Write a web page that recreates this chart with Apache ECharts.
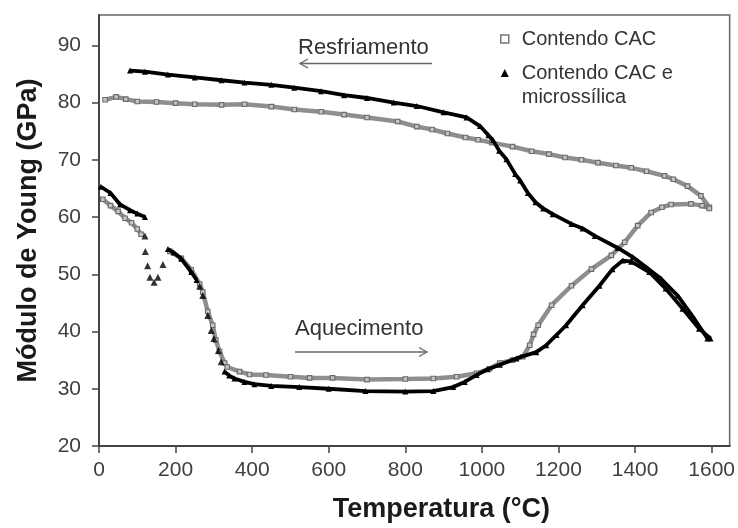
<!DOCTYPE html>
<html>
<head>
<meta charset="utf-8">
<script src="https://cdn.jsdelivr.net/npm/echarts@6/dist/echarts.min.js"></script>
<style>html,body{margin:0;padding:0;background:#fff}#c{width:738px;height:528px}</style>
</head>
<body>
<div id="c"></div>
<script>
// ---------- data ----------
const S1 = 'Contendo CAC';
const S2 = 'Contendo CAC e microssílica';
const xTicks = [0, 200, 400, 600, 800, 1000, 1200, 1400, 1600];
const yTicks = [20, 30, 40, 50, 60, 70, 80, 90];

// Contendo CAC (open squares) - heating
const cacHeatA = [[10,63.1],[30,62.0],[50,61.0],[68,59.8],[85,59.0],[100,57.9],[110,57.0]];
const cacHeatB = [[185,54.0],[215,52.8],[241,50.8],[263,48.3],[271,46.9],[284,43.5],[297,41.1],[305,38.5],[315,36.5],[328,34.5],[335,33.8],[367,33.0],[393,32.5],[436,32.4],[500,32.1],[550,31.9],[610,31.9],[700,31.6],[800,31.7],[873,31.8],[934,32.1],[986,32.7],[1020,33.5],[1047,34.5],[1080,35.0],[1107,35.6],[1125,37.6],[1135,39.5],[1147,41.1],[1182,44.6],[1234,48.0],[1286,50.9],[1338,53.3],[1373,55.6],[1407,58.5],[1442,60.8],[1470,61.7],[1494,62.2],[1546,62.3],[1575,62.0],[1594,61.5]];
// Contendo CAC - cooling
const cacCool = [[1594,61.7],[1572,63.7],[1537,65.4],[1500,66.6],[1477,67.2],[1430,68.0],[1390,68.6],[1350,69.0],[1303,69.5],[1260,70.0],[1217,70.4],[1175,71.0],[1130,71.5],[1080,72.3],[1026,73.0],[990,73.5],[957,73.9],[910,74.6],[870,75.3],[830,75.8],[780,76.7],[700,77.4],[640,77.9],[580,78.4],[510,78.8],[450,79.3],[380,79.7],[320,79.6],[250,79.7],[200,79.9],[150,80.1],[100,80.2],[70,80.6],[45,81.0],[16,80.5]];

// Contendo CAC e microssílica (filled triangles) - heating
const micHeatA = [[5,65.3],[30,64.2],[55,62.2],[81,61.2],[100,60.6],[120,60.0]];
const micDip = [[120,56.7],[121,54.0],[127,51.5],[133,49.5],[144,48.6],[154,49.5],[167,51.7],[263,47.9],[271,46.3],[284,42.8],[293,40.2],[300,38.8],[312,36.7],[319,34.7]];
const micHeatB = [[180,54.4],[195,53.8],[215,52.7],[241,50.4],[255,49.0]];
const micHeatC = [[328,33.0],[340,32.3],[354,31.8],[380,31.2],[406,30.8],[450,30.5],[523,30.3],[600,30.0],[696,29.6],[800,29.5],[873,29.6],[925,30.3],[955,31.2],[986,32.4],[1015,33.4],[1047,34.2],[1090,35.3],[1142,36.4],[1168,37.6],[1195,39.4],[1220,41.1],[1263,44.6],[1307,48.0],[1341,50.9],[1368,52.4],[1390,52.2],[1437,50.4],[1480,47.5],[1524,44.0],[1567,40.5],[1597,38.8]];
// Contendo CAC e microssílica - cooling
const micCool = [[1589,38.8],[1555,42.2],[1511,46.3],[1468,49.2],[1430,51.2],[1394,53.0],[1355,54.6],[1295,56.7],[1263,58.0],[1234,58.8],[1185,60.5],[1160,61.5],[1140,62.6],[1120,64.2],[1100,66.4],[1087,67.5],[1064,70.1],[1045,71.6],[1029,73.4],[1017,74.3],[995,75.9],[960,77.4],[900,78.3],[830,79.4],[770,80.0],[700,80.8],[640,81.3],[580,82.0],[510,82.6],[450,83.1],[380,83.5],[320,83.9],[250,84.4],[180,84.9],[120,85.4],[81,85.6]];

// ---------- chart ----------
const FONT = '"Liberation Sans", Arial, sans-serif';
const chart = echarts.init(document.getElementById('c'), null, {renderer: 'canvas'});

const grayLine = {color: '#8e8e8e', width: 4.5};
const graySym = {color: '#c4c4c4', borderColor: '#6a6a6a', borderWidth: 1.1};
const blackLine = {color: '#000', width: 3.8};
const blackSym = {color: '#000'};

function graySeries(data) {
  return {name: S1, type: 'line', data: data, symbol: 'rect', symbolSize: 4.5,
    lineStyle: grayLine, itemStyle: graySym, z: 2, animation: false};
}
function blackSeries(data) {
  return {name: S2, type: 'line', data: data, symbol: 'triangle', symbolSize: 6,
    lineStyle: blackLine, itemStyle: blackSym, z: 3, animation: false};
}

chart.setOption({
  animation: false,
  backgroundColor: '#fff',
  grid: {left: 99, right: 6, top: 15, bottom: 80, show: true, borderColor: '#666', borderWidth: 1.5},
  xAxis: {
    type: 'value', min: 0, max: 1647,
    name: 'Temperatura (°C)', nameLocation: 'middle', nameGap: 50,
    nameTextStyle: {fontFamily: FONT, fontSize: 27, fontWeight: 'bold', color: '#1a1a1a', padding: [0, 0, 0, 54]},
    axisLine: {lineStyle: {color: '#444', width: 2}},
    axisTick: {show: true, inside: false, length: 7, customValues: xTicks, lineStyle: {color: '#444', width: 1.5}},
    axisLabel: {customValues: xTicks, formatter: function (v) { return String(v); }, fontFamily: FONT, fontSize: 21, color: '#404040', margin: 14},
    splitLine: {show: false}
  },
  yAxis: {
    type: 'value', min: 20, max: 95.3,
    name: 'Módulo de Young (GPa)', nameLocation: 'middle', nameGap: 57,
    nameTextStyle: {fontFamily: FONT, fontSize: 27, fontWeight: 'bold', color: '#1a1a1a'},
    axisLine: {show: true, lineStyle: {color: '#444', width: 2}},
    axisTick: {show: true, inside: false, length: 7, customValues: yTicks, lineStyle: {color: '#444', width: 1.5}},
    axisLabel: {customValues: yTicks, formatter: function (v) { return String(v); }, fontFamily: FONT, fontSize: 21, color: '#404040', margin: 18},
    splitLine: {show: false}
  },
  legend: {
    orient: 'vertical', left: 500, top: 27, padding: 0, itemGap: -14,
    itemWidth: 8, itemHeight: 8,
    selectedMode: false,
    textStyle: {fontFamily: FONT, fontSize: 20, color: '#333', lineHeight: 24, padding: [0, 0, 0, 8]},
    formatter: function (n) { return n === S2 ? '\nContendo CAC e\nmicrossílica' : n; },
    data: [
      {name: S1, icon: 'rect', itemStyle: {color: '#fff', borderColor: '#777', borderWidth: 1.5}},
      {name: S2, icon: 'triangle', itemStyle: {color: '#000', borderWidth: 0}}
    ]
  },
  graphic: [
    {type: 'text', left: 298, top: 37, style: {text: 'Resfriamento', font: '22px ' + FONT, fill: '#333'}},
    {type: 'line', shape: {x1: 300, y1: 63.5, x2: 432, y2: 63.5}, style: {stroke: '#666', lineWidth: 1.3}},
    {type: 'polyline', shape: {points: [[308, 59], [300, 63.5], [308, 68]]}, style: {stroke: '#666', lineWidth: 1.3, fill: null}},
    {type: 'text', left: 295, top: 318, style: {text: 'Aquecimento', font: '22px ' + FONT, fill: '#333'}},
    {type: 'line', shape: {x1: 295, y1: 352, x2: 427, y2: 352}, style: {stroke: '#666', lineWidth: 1.3}},
    {type: 'polyline', shape: {points: [[419, 347.5], [427, 352], [419, 356.5]]}, style: {stroke: '#666', lineWidth: 1.3, fill: null}}
  ],
  series: [
    graySeries(cacCool),
    graySeries(cacHeatA),
    graySeries(cacHeatB),
    blackSeries(micCool),
    blackSeries(micHeatA),
    blackSeries(micHeatB),
    blackSeries(micHeatC),
    {name: S2, type: 'scatter', data: micDip, symbol: 'triangle', symbolSize: 7, itemStyle: blackSym, z: 4, animation: false}
  ]
});
</script>
</body>
</html>
